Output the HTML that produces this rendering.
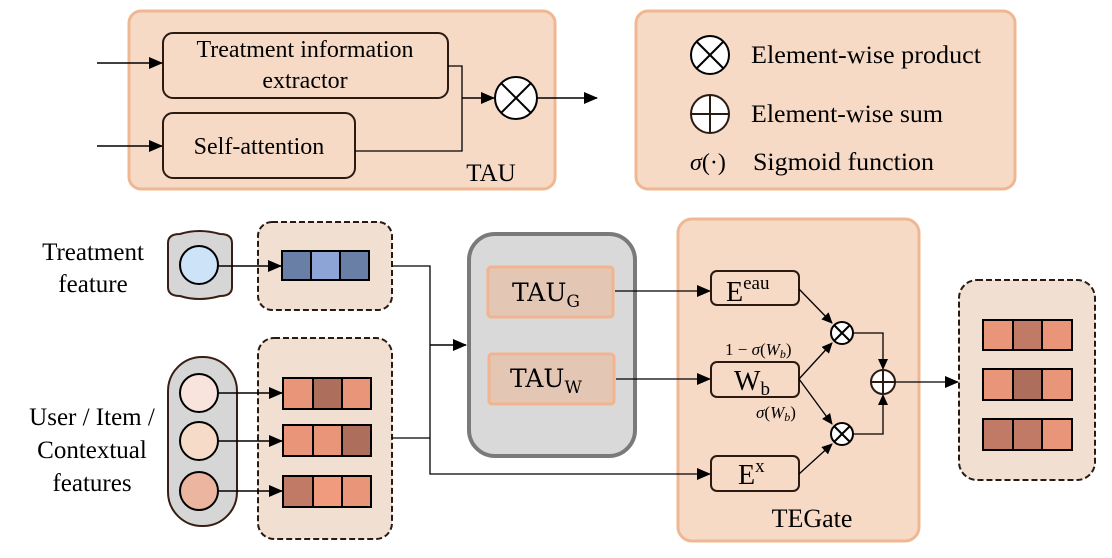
<!DOCTYPE html>
<html><head><meta charset="utf-8"><style>
html,body{margin:0;padding:0;background:#fff;}
svg{display:block;font-family:"Liberation Serif",serif;}
</style></head><body>
<svg width="1112" height="558" viewBox="0 0 1112 558" xmlns="http://www.w3.org/2000/svg">
<defs>
<marker id="ah" markerWidth="14" markerHeight="12" refX="13" refY="6" orient="auto" markerUnits="userSpaceOnUse">
<path d="M0,0 L14,6 L0,12 z" fill="#000"/></marker>
<marker id="ahs" markerWidth="11" markerHeight="10" refX="10" refY="5" orient="auto" markerUnits="userSpaceOnUse">
<path d="M0,0 L11,5 L0,10 z" fill="#000"/></marker>
</defs>

<!-- TAU box -->
<rect x="129" y="11" width="426" height="178" rx="12" fill="#f6dac6" stroke="#efb893" stroke-width="3"/>
<rect x="163" y="33" width="285" height="65" rx="10" fill="#f6dac6" stroke="#2a1a12" stroke-width="2"/>
<text x="305" y="57" font-size="24" text-anchor="middle">Treatment information</text>
<text x="305" y="88" font-size="24" text-anchor="middle">extractor</text>
<rect x="163" y="113" width="192" height="65" rx="10" fill="#f6dac6" stroke="#2a1a12" stroke-width="2"/>
<text x="259" y="154" font-size="24" text-anchor="middle">Self-attention</text>
<text x="491" y="181" font-size="25" text-anchor="middle">TAU</text>
<line x1="97" y1="63" x2="162" y2="63" stroke="#000" stroke-width="1.5" marker-end="url(#ah)"/>
<line x1="97" y1="146" x2="162" y2="146" stroke="#000" stroke-width="1.5" marker-end="url(#ah)"/>
<polyline points="448,66 462,66 462,151 355,151" fill="none" stroke="#000" stroke-width="1.3"/>
<line x1="462" y1="98" x2="494" y2="98" stroke="#000" stroke-width="1.5" marker-end="url(#ah)"/>
<circle cx="516" cy="98" r="21" fill="#fff" stroke="#000" stroke-width="2"/>
<line x1="501" y1="83" x2="531" y2="113" stroke="#000" stroke-width="2"/>
<line x1="531" y1="83" x2="501" y2="113" stroke="#000" stroke-width="2"/>
<line x1="537" y1="98" x2="597" y2="98" stroke="#000" stroke-width="1.5" marker-end="url(#ah)"/>

<!-- Legend -->
<rect x="636" y="11" width="379" height="178" rx="12" fill="#f6dac6" stroke="#efb893" stroke-width="3"/>
<circle cx="710" cy="55" r="19" fill="#fff" stroke="#000" stroke-width="2"/>
<line x1="697" y1="42" x2="723" y2="68" stroke="#000" stroke-width="2"/>
<line x1="723" y1="42" x2="697" y2="68" stroke="#000" stroke-width="2"/>
<text x="751" y="63" font-size="25" textLength="230" lengthAdjust="spacingAndGlyphs">Element-wise product</text>
<circle cx="710" cy="114" r="19" fill="#fff" stroke="#2a1a12" stroke-width="2"/>
<line x1="691" y1="114" x2="729" y2="114" stroke="#2a1a12" stroke-width="2"/>
<line x1="710" y1="95" x2="710" y2="133" stroke="#2a1a12" stroke-width="2"/>
<text x="751" y="122" font-size="25" textLength="192" lengthAdjust="spacingAndGlyphs">Element-wise sum</text>
<text x="690" y="170" font-size="24" font-style="italic">σ<tspan font-style="normal">(·)</tspan></text>
<text x="753" y="170" font-size="25" textLength="181" lengthAdjust="spacingAndGlyphs">Sigmoid function</text>

<!-- left labels -->
<text x="93" y="260" font-size="25" text-anchor="middle">Treatment</text>
<text x="93" y="292" font-size="25" text-anchor="middle">feature</text>
<text x="92" y="425" font-size="25" text-anchor="middle">User / Item /</text>
<text x="92" y="458" font-size="25" text-anchor="middle">Contextual</text>
<text x="92" y="491" font-size="25" text-anchor="middle">features</text>

<!-- treatment pill -->
<path d="M168,243 Q168,234 180,234 Q199,228 220,234 Q232,234 232,243 L232,287 Q232,296 220,296 Q199,302 180,296 Q168,296 168,287 Z" fill="#d6d6d6" stroke="#3a1e14" stroke-width="2"/>
<circle cx="199" cy="265" r="19" fill="#cde3f8" stroke="#000" stroke-width="2"/>
<rect x="258" y="222" width="134" height="88" rx="14" fill="#f1dfd2" stroke="#2a1a12" stroke-width="2" stroke-dasharray="6,3"/>
<line x1="218" y1="266" x2="281" y2="266" stroke="#000" stroke-width="1.5" marker-end="url(#ah)"/>
<rect x="282" y="251" width="29" height="29" fill="#6a7fa6" stroke="#000" stroke-width="2"/>
<rect x="311" y="251" width="29" height="29" fill="#8da4d6" stroke="#000" stroke-width="2"/>
<rect x="340" y="251" width="29" height="29" fill="#6a7fa6" stroke="#000" stroke-width="2"/>

<!-- lower pill -->
<rect x="168" y="357" width="69" height="169" rx="34" fill="#d6d6d6" stroke="#3a1e14" stroke-width="2"/>
<circle cx="199" cy="393" r="19" fill="#f8e4dc" stroke="#000" stroke-width="2"/>
<circle cx="199" cy="441" r="19" fill="#f6dcc8" stroke="#000" stroke-width="2"/>
<circle cx="199" cy="491" r="19" fill="#ebb59f" stroke="#000" stroke-width="2"/>
<rect x="258" y="338" width="134" height="201" rx="16" fill="#f1dfd2" stroke="#2a1a12" stroke-width="2" stroke-dasharray="6,3"/>
<line x1="218" y1="393" x2="282" y2="393" stroke="#000" stroke-width="1.5" marker-end="url(#ah)"/>
<line x1="218" y1="441" x2="282" y2="441" stroke="#000" stroke-width="1.5" marker-end="url(#ah)"/>
<line x1="218" y1="491" x2="282" y2="491" stroke="#000" stroke-width="1.5" marker-end="url(#ah)"/>
<g stroke="#000" stroke-width="2">
<rect x="283" y="378" width="30" height="31" fill="#e9957a"/><rect x="313" y="378" width="29" height="31" fill="#ad6f5c"/><rect x="342" y="378" width="29" height="31" fill="#e9957a"/>
<rect x="283" y="425" width="30" height="31" fill="#e9957a"/><rect x="313" y="425" width="29" height="31" fill="#e9957a"/><rect x="342" y="425" width="29" height="31" fill="#ad6f5c"/>
<rect x="283" y="476" width="30" height="31" fill="#c07a66"/><rect x="313" y="476" width="29" height="31" fill="#f09a7e"/><rect x="342" y="476" width="29" height="31" fill="#e9957a"/>
</g>

<!-- TEGate box (drawn before connectors) -->
<rect x="678" y="219" width="241" height="322" rx="14" fill="#f6dac6" stroke="#efb893" stroke-width="3"/>

<!-- connectors to middle -->
<polyline points="392,266 430,266 430,474 710,474" fill="none" stroke="#000" stroke-width="1.3" marker-end="url(#ah)"/>
<line x1="392" y1="438" x2="430" y2="438" stroke="#000" stroke-width="1.3"/>
<line x1="430" y1="345" x2="466" y2="345" stroke="#000" stroke-width="1.5" marker-end="url(#ah)"/>

<!-- gray box -->
<rect x="469" y="234" width="166" height="222" rx="26" fill="#d9d9d9" stroke="#7a7a7a" stroke-width="4"/>
<rect x="488" y="267" width="125" height="50" rx="3" fill="#e3c7b4" stroke="#f2b48e" stroke-width="3"/>
<text x="546" y="301" font-size="25" text-anchor="middle" font-family="DejaVu Serif, serif">TAU<tspan font-size="17" dy="6">G</tspan></text>
<rect x="489" y="354" width="125" height="50" rx="3" fill="#e3c7b4" stroke="#f2b48e" stroke-width="3"/>
<text x="546" y="387" font-size="25" text-anchor="middle" font-family="DejaVu Serif, serif">TAU<tspan font-size="17" dy="6">W</tspan></text>
<line x1="615" y1="291" x2="710" y2="291" stroke="#000" stroke-width="1.3" marker-end="url(#ah)"/>
<line x1="616" y1="379" x2="710" y2="379" stroke="#000" stroke-width="1.3" marker-end="url(#ah)"/>

<!-- TEGate contents -->
<rect x="711" y="271" width="88" height="34" rx="6" fill="#f6dac6" stroke="#2a1a12" stroke-width="2"/>
<text x="726" y="301" font-size="28">E<tspan font-size="19" dy="-12">eau</tspan></text>
<rect x="711" y="362" width="88" height="35" rx="6" fill="#f6dac6" stroke="#2a1a12" stroke-width="2"/>
<text x="734" y="390" font-size="28">W<tspan font-size="19" dy="5">b</tspan></text>
<rect x="711" y="456" width="88" height="35" rx="6" fill="#f6dac6" stroke="#2a1a12" stroke-width="2"/>
<text x="738" y="484" font-size="28">E<tspan font-size="19" dy="-12">x</tspan></text>
<text x="725" y="355" font-size="17">1 − <tspan font-style="italic">σ</tspan>(<tspan font-style="italic">W</tspan><tspan font-style="italic" font-size="12" dy="3">b</tspan><tspan dy="-3">)</tspan></text>
<text x="756" y="418" font-size="17"><tspan font-style="italic">σ</tspan>(<tspan font-style="italic">W</tspan><tspan font-style="italic" font-size="12" dy="3">b</tspan><tspan dy="-3">)</tspan></text>
<text x="812" y="527" font-size="26" text-anchor="middle">TEGate</text>

<line x1="799" y1="289" x2="832" y2="323" stroke="#000" stroke-width="1.3" marker-end="url(#ahs)"/>
<line x1="799" y1="379" x2="832" y2="343" stroke="#000" stroke-width="1.3" marker-end="url(#ahs)"/>
<line x1="799" y1="379" x2="832" y2="424" stroke="#000" stroke-width="1.3" marker-end="url(#ahs)"/>
<line x1="799" y1="474" x2="832" y2="444" stroke="#000" stroke-width="1.3" marker-end="url(#ahs)"/>
<polyline points="853,333 883,333 883,369" fill="none" stroke="#000" stroke-width="1.3" marker-end="url(#ahs)"/>
<polyline points="853,434 883,434 883,395" fill="none" stroke="#000" stroke-width="1.3" marker-end="url(#ahs)"/>
<g stroke="#000" stroke-width="2" fill="#fff">
<circle cx="842" cy="333" r="11"/><circle cx="842" cy="434" r="11"/>
</g>
<g stroke="#000" stroke-width="2">
<line x1="834" y1="325" x2="850" y2="341"/><line x1="850" y1="325" x2="834" y2="341"/>
<line x1="834" y1="426" x2="850" y2="442"/><line x1="850" y1="426" x2="834" y2="442"/>
</g>
<circle cx="883" cy="382" r="12" fill="#fff" stroke="#2a1a12" stroke-width="2"/>
<line x1="871" y1="382" x2="895" y2="382" stroke="#2a1a12" stroke-width="2"/>
<line x1="883" y1="370" x2="883" y2="394" stroke="#2a1a12" stroke-width="2"/>

<!-- output -->
<rect x="959" y="280" width="136" height="200" rx="18" fill="#f1dfd2" stroke="#2a1a12" stroke-width="2" stroke-dasharray="6,3"/>
<line x1="895" y1="382" x2="958" y2="382" stroke="#000" stroke-width="1.3" marker-end="url(#ah)"/>
<g stroke="#000" stroke-width="2">
<rect x="983" y="320" width="30" height="30" fill="#e9957a"/><rect x="1013" y="320" width="29" height="30" fill="#c07a66"/><rect x="1042" y="320" width="30" height="30" fill="#e9957a"/>
<rect x="983" y="369" width="30" height="31" fill="#e9957a"/><rect x="1013" y="369" width="29" height="31" fill="#ad6f5c"/><rect x="1042" y="369" width="30" height="31" fill="#e9957a"/>
<rect x="983" y="419" width="30" height="31" fill="#c07a66"/><rect x="1013" y="419" width="29" height="31" fill="#c07a66"/><rect x="1042" y="419" width="30" height="31" fill="#e9957a"/>
</g>
</svg>
</body></html>
